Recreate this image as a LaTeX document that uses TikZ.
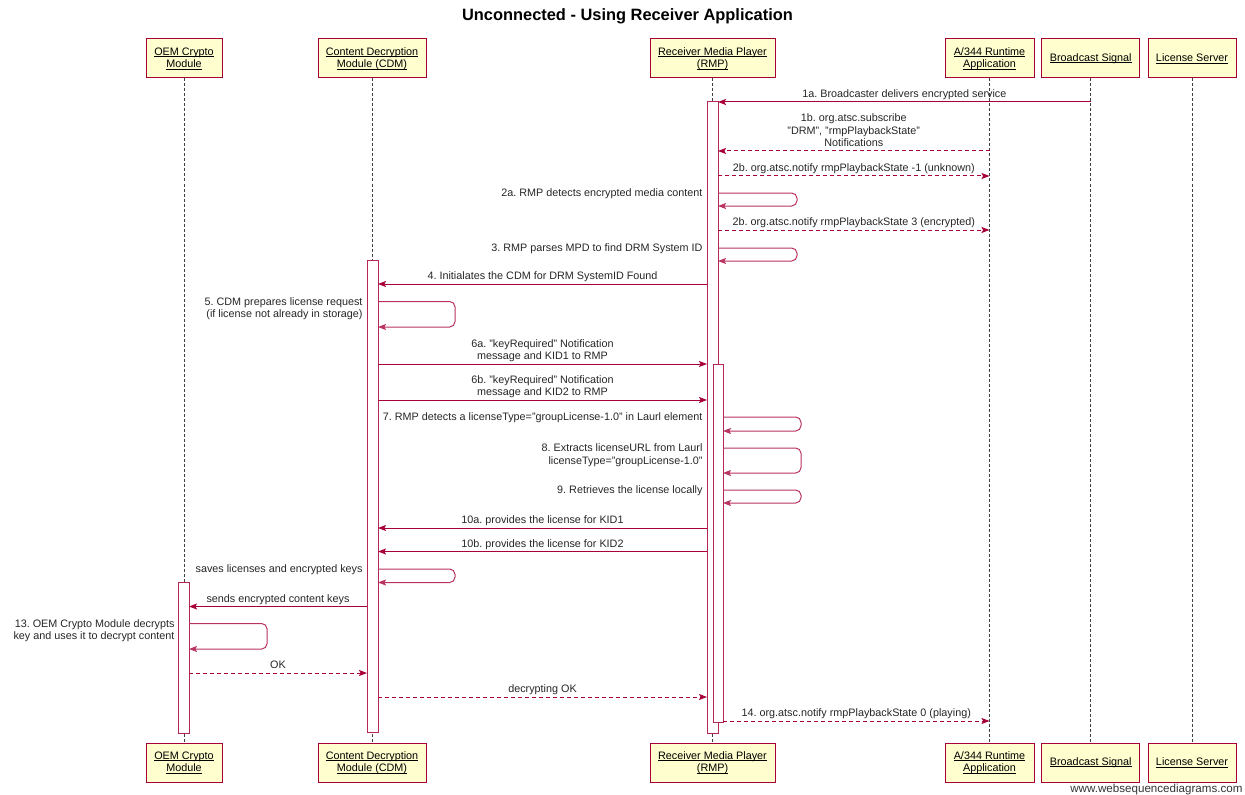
\documentclass[tikz,border=0pt]{standalone}
\usepackage{fontspec}
\setmainfont{Liberation Sans}
\usetikzlibrary{arrows.meta}

\definecolor{wsdred}{HTML}{A80036}
\definecolor{wsdyellow}{HTML}{FEFECE}
\newcommand\msgfont{\fontsize{8.1}{9.3}\selectfont}
\newcommand\actorname[1]{\setbox0\hbox{#1}\rlap{\rule[-1.3pt]{\wd0}{0.5pt}}\box0}
\frenchspacing

\tikzset{every picture/.style={line width=0.75pt}}
\tikzset{
  party/.style={draw=wsdred, fill=wsdyellow, line width=0.75pt, minimum height=29.25pt, inner sep=0pt, align=center, font=\msgfont},
  life/.style={draw=black!75, line width=0.6pt, dash pattern=on 2.25pt off 1.5pt},
  bar/.style={draw=wsdred!85, fill=white, line width=0.6pt},
  msg/.style={draw=wsdred, line width=0.75pt, -{Stealth[length=6pt,width=4.5pt,inset=1.2pt]}},
  reply/.style={msg, dash pattern=on 3pt off 2.25pt},
  selfmsg/.style={msg, draw=wsdred!80, rounded corners=4pt},
  lbl/.style={font=\msgfont, inner sep=0pt, text depth=1.7pt, align=center, text=black!85},
  selflbl/.style={font=\msgfont, inner sep=0pt, align=right, anchor=north east, text=black!85},
}

\begin{document}
\begin{tikzpicture}[x=0.75pt,y=0.75pt,yscale=-1,xscale=1]
\useasboundingbox (0,0) rectangle (1245,795);

% Text Node
\node[font=\fontsize{12.3}{14}\selectfont\bfseries, inner sep=0pt] (title) at (627.5,16) {Unconnected - Using Receiver Application};

%Shape: Participants (top)
\node[party, minimum width=57pt] (oemT) at (184,58.5) {\actorname{OEM Crypto}\\\actorname{Module}};
\node[party, minimum width=81pt] (cdmT) at (372,58.5) {\actorname{Content Decryption}\\\actorname{Module (CDM)}};
\node[party, minimum width=93.75pt] (rmpT) at (712.5,58.5) {\actorname{Receiver Media Player}\\\actorname{(RMP)}};
\node[party, minimum width=66.75pt] (appT) at (989.5,58.5) {\actorname{A/344 Runtime}\\\actorname{Application}};
\node[party, minimum width=73.5pt] (bsT) at (1090.75,58.5) {\actorname{Broadcast Signal}};
\node[party, minimum width=66pt] (lsT) at (1192,58.5) {\actorname{License Server}};
%Shape: Participants (bottom)
\node[party, minimum width=57pt] (oemB) at (184,762.5) {\actorname{OEM Crypto}\\\actorname{Module}};
\node[party, minimum width=81pt] (cdmB) at (372,762.5) {\actorname{Content Decryption}\\\actorname{Module (CDM)}};
\node[party, minimum width=93.75pt] (rmpB) at (712.5,762.5) {\actorname{Receiver Media Player}\\\actorname{(RMP)}};
\node[party, minimum width=66.75pt] (appB) at (989.5,762.5) {\actorname{A/344 Runtime}\\\actorname{Application}};
\node[party, minimum width=73.5pt] (bsB) at (1090.75,762.5) {\actorname{Broadcast Signal}};
\node[party, minimum width=66pt] (lsB) at (1192,762.5) {\actorname{License Server}};

%Straight Lines: lifelines
\draw[life] (oemT) -- (oemB);
\draw[life] (cdmT) -- (cdmB);
\draw[life] (rmpT) -- (rmpB);
\draw[life] (appT) -- (appB);
\draw[life] (bsT) -- (bsB);
\draw[life] (lsT) -- (lsB);

%Shape: Rectangle (activations)
\coordinate (rmpL) at (707,101);
\coordinate (rmpR) at (718,733);
\draw[bar] (rmpL) rectangle (rmpR);
\coordinate (rmpIL) at (713,364);
\coordinate (rmpIR) at (723,722);
\draw[bar] (rmpIL) rectangle (rmpIR);
\coordinate (cdmL) at (367,260);
\coordinate (cdmR) at (378,732);
\draw[bar] (cdmL) rectangle (cdmR);
\coordinate (oemL) at (178,582);
\coordinate (oemR) at (189,733);
\draw[bar] (oemL) rectangle (oemR);

% message rows
\coordinate (y1a) at (0,102);
\coordinate (y1b) at (0,151);
\coordinate (y2u) at (0,176);
\coordinate (y2a) at (0,193);
\coordinate (y2e) at (0,230);
\coordinate (y3) at (0,248);
\coordinate (y4) at (0,284);
\coordinate (y5) at (0,301.5);
\coordinate (y6a) at (0,364);
\coordinate (y6b) at (0,400);
\coordinate (y7) at (0,417);
\coordinate (y8) at (0,448);
\coordinate (y9) at (0,490);
\coordinate (y10a) at (0,528);
\coordinate (y10b) at (0,551.5);
\coordinate (ysave) at (0,569);
\coordinate (ysend) at (0,606.5);
\coordinate (y13) at (0,623.5);
\coordinate (yok) at (0,673);
\coordinate (ydec) at (0,697);
\coordinate (y14) at (0,721);

%Straight Lines
\draw[msg] (bsT |- y1a) -- (rmpR |- y1a) node[lbl, midway, above=1.3pt] (t1a) {1a. Broadcaster delivers encrypted service};
\draw[reply] (appT |- y1b) -- (rmpR |- y1b) node[lbl, midway, above=1.3pt] (t1b) {1b. org.atsc.subscribe\\"DRM", "rmpPlaybackState"\\Notifications};
\draw[reply] (rmpR |- y2u) -- (appT |- y2u) node[lbl, midway, above=1.3pt] (t2u) {2b. org.atsc.notify rmpPlaybackState -1 (unknown)};
\draw[selfmsg] (rmpR |- y2a) -- ++(79,0) -- ++(0,13) -- ++(-79,0);
\node[selflbl, xshift=-3pt, yshift=3.3pt] (t2a) at (rmpL |- y2a) {2a. RMP detects encrypted media content};
\draw[reply] (rmpR |- y2e) -- (appT |- y2e) node[lbl, midway, above=1.3pt] (t2e) {2b. org.atsc.notify rmpPlaybackState 3 (encrypted)};
\draw[selfmsg] (rmpR |- y3) -- ++(79,0) -- ++(0,13) -- ++(-79,0);
\node[selflbl, xshift=-3pt, yshift=3.3pt] (t3) at (rmpL |- y3) {3. RMP parses MPD to find DRM System ID};
\draw[msg] (rmpL |- y4) -- (cdmR |- y4) node[lbl, midway, above=1.3pt] (t4) {4. Initialates the CDM for DRM SystemID Found};
\draw[selfmsg] (cdmR |- y5) -- ++(77,0) -- ++(0,25.5) -- ++(-77,0);
\node[selflbl, xshift=-3pt, yshift=3.3pt] (t5) at (cdmL |- y5) {5. CDM prepares license request\\(if license not already in storage)};
\draw[msg] (cdmR |- y6a) -- (rmpL |- y6a) node[lbl, midway, above=1.3pt] (t6a) {6a. "keyRequired" Notification\\message and KID1 to RMP};
\draw[msg] (cdmR |- y6b) -- (rmpL |- y6b) node[lbl, midway, above=1.3pt] (t6b) {6b. "keyRequired" Notification\\message and KID2 to RMP};
\draw[selfmsg] (rmpIR |- y7) -- ++(78,0) -- ++(0,14) -- ++(-78,0);
\node[selflbl, xshift=-3pt, yshift=3.3pt] (t7) at (rmpL |- y7) {7. RMP detects a licenseType="groupLicense-1.0" in Laurl element};
\draw[selfmsg] (rmpIR |- y8) -- ++(78,0) -- ++(0,25) -- ++(-78,0);
\node[selflbl, xshift=-3pt, yshift=3.3pt] (t8) at (rmpL |- y8) {8. Extracts licenseURL from Laurl\\licenseType="groupLicense-1.0"};
\draw[selfmsg] (rmpIR |- y9) -- ++(78,0) -- ++(0,13) -- ++(-78,0);
\node[selflbl, xshift=-3pt, yshift=3.3pt] (t9) at (rmpL |- y9) {9. Retrieves the license locally};
\draw[msg] (rmpL |- y10a) -- (cdmR |- y10a) node[lbl, midway, above=1.3pt] (t10a) {10a. provides the license for KID1};
\draw[msg] (rmpL |- y10b) -- (cdmR |- y10b) node[lbl, midway, above=1.3pt] (t10b) {10b. provides the license for KID2};
\draw[selfmsg] (cdmR |- ysave) -- ++(77,0) -- ++(0,13.5) -- ++(-77,0);
\node[selflbl, xshift=-3pt, yshift=3.3pt] (tsave) at (cdmL |- ysave) {saves licenses and encrypted keys};
\draw[msg] (cdmL |- ysend) -- (oemR |- ysend) node[lbl, midway, above=1.3pt] (tsend) {sends encrypted content keys};
\draw[selfmsg] (oemR |- y13) -- ++(78,0) -- ++(0,25.5) -- ++(-78,0);
\node[selflbl, xshift=-2.3pt, yshift=3.3pt] (t13) at (oemL |- y13) {13. OEM Crypto Module decrypts\\key and uses it to decrypt content};
\draw[reply] (oemR |- yok) -- (cdmL |- yok) node[lbl, midway, above=1.3pt] (tok) {OK};
\draw[reply] (cdmR |- ydec) -- (rmpL |- ydec) node[lbl, midway, above=1.3pt] (tdec) {decrypting OK};
\draw[reply] (rmpIR |- y14) -- (appT |- y14) node[lbl, midway, above=1.3pt] (t14) {14. org.atsc.notify rmpPlaybackState 0 (playing)};

% Text Node
\node[font=\fontsize{8.7}{10}\selectfont, anchor=east, inner sep=0pt, text=black!80] (wsd) at (1243,789) {www.websequencediagrams.com};

\end{tikzpicture}
\end{document}
